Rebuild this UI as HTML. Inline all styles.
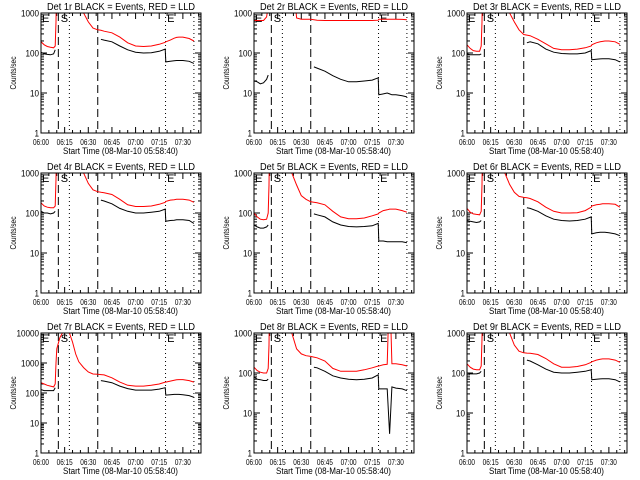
<!DOCTYPE html>
<html><head><meta charset="utf-8">
<style>
html,body{margin:0;padding:0;background:#fff;}
svg{display:block;font-family:"Liberation Sans",sans-serif;}
</style></head>
<body>
<svg id="chart" width="640" height="480" viewBox="0 0 640 480" xmlns="http://www.w3.org/2000/svg"></svg>
<script>
// time grid (minutes after 06:00)
const times = [0,2,4,6,8,9,9.5,10,12,14,16,18,20,22,24,27,30,33,36,38,40,45,50,55,60,65,70,75,78.8,79.2,82,84.5,86,87.5,90,94,97];
const N = null;
const detNames = ["Det 1r","Det 2r","Det 3r","Det 4r","Det 5r","Det 6r","Det 7r","Det 8r","Det 9r"];
const red1 = [190,160,145,140,135,150,600,20000,20000,20000,20000,20000,20000,20000,20000,1000,600,420,380,370,350,320,250,180,150,145,150,165,185,190,210,235,245,250,250,230,200];
const blk1 = [105,95,92,90,95,120,N,N,N,N,N,N,N,N,N,N,N,N,N,220,210,190,150,120,105,100,102,110,125,60,62,64,65,65,65,62,55];
const red2 = [650,650,650,650,800,1500,20000,20000,20000,20000,20000,20000,20000,20000,20000,750,700,700,700,680,660,650,650,650,650,650,650,650,660,700,700,700,700,700,700,690,680];
const blk2 = [20,19,17,18,22,28,N,N,N,N,N,N,N,N,N,N,N,N,N,45,42,35,27,22,19,19,20,21,24,9,9.5,10,9.5,9,9,8.5,8];
const red3 = [160,130,115,110,110,150,600,20000,20000,20000,20000,20000,20000,20000,20000,1000,600,380,290,280,270,220,170,130,120,120,125,135,150,160,180,190,195,200,200,190,165];
const blk3 = [95,90,90,90,90,95,N,N,N,N,N,N,N,N,N,N,N,N,N,180,190,170,125,105,97,95,95,100,115,68,70,71,72,72,72,68,60];
const red4 = [180,150,140,135,135,150,700,20000,20000,20000,20000,20000,20000,20000,20000,1000,550,380,340,330,320,290,220,160,145,145,150,165,185,195,210,215,220,220,220,210,185];
const blk4 = [110,100,100,95,100,110,N,N,N,N,N,N,N,N,N,N,N,N,N,210,200,170,130,110,100,100,105,110,125,62,65,66,68,68,68,65,55];
const red5 = [100,80,70,68,70,100,500,20000,20000,20000,20000,20000,20000,20000,1000,500,270,220,190,185,180,160,110,80,72,72,75,85,95,100,115,120,125,125,125,115,105];
const blk5 = [50,45,42,42,45,50,N,N,N,N,N,N,N,N,N,N,N,N,N,95,90,80,60,50,46,45,46,48,55,20,20,19,19,19,19,19,18];
const red6 = [130,105,95,92,90,110,500,20000,20000,20000,20000,20000,20000,20000,1000,520,330,260,245,240,230,190,140,110,100,100,102,115,140,150,160,165,170,170,170,165,140];
const blk6 = [65,62,60,58,60,65,N,N,N,N,N,N,N,N,N,N,N,N,N,135,130,110,85,70,65,63,65,70,80,30,32,33,33,33,32,30,27];
const red7 = [220,200,180,170,160,200,1000,3000,7000,11000,12000,10000,5000,2000,1100,700,500,430,420,410,400,320,230,180,170,170,180,200,230,230,250,265,275,280,280,260,230];
const blk7 = [130,120,120,120,120,150,N,N,N,N,N,N,N,N,N,N,N,N,N,260,250,220,170,140,125,125,125,135,150,85,88,90,90,90,88,82,72];
const red8 = [140,115,105,100,100,130,500,20000,20000,20000,20000,20000,20000,20000,1000,400,300,270,260,250,240,200,130,110,110,110,120,135,150,150,160,165,20000,170,170,160,150];
const blk8 = [80,70,68,65,65,70,N,N,N,N,N,N,N,N,N,N,N,N,N,140,135,110,85,75,70,68,70,75,90,40,40,40,3,45,42,40,36];
const red9 = [170,140,125,120,120,150,700,20000,20000,20000,20000,20000,20000,20000,20000,1000,500,350,320,315,310,290,230,170,140,140,145,160,185,190,210,220,225,225,225,210,185];
const blk9 = [100,95,95,95,100,110,N,N,N,N,N,N,N,N,N,N,N,N,N,210,200,160,125,105,100,100,105,110,120,68,70,71,72,72,72,68,60];
const redSeries = [red1,red2,red3,red4,red5,red6,red7,red8,red9];
const blackSeries = [blk1,blk2,blk3,blk4,blk5,blk6,blk7,blk8,blk9];
const yDecades = [3,3,3,3,3,3,4,3,3];
const xTickLabels = ["06:00","06:15","06:30","06:45","07:00","07:15","07:30"];
const xTickMinutes = [0,15,30,45,60,75,90];
const dashedLines = [11,36];
const dottedLines = [18,79,97];

const svg = document.getElementById('chart');
const NS = "http://www.w3.org/2000/svg";
function mk(tag, attrs, parent){
  const e = document.createElementNS(NS, tag);
  for (const k in attrs) e.setAttribute(k, attrs[k]);
  (parent||svg).appendChild(e);
  return e;
}
const PW = 160, PH = 120, TMAX = 101.5;

for (let p = 0; p < 9; p++){
  const col = p % 3, row = Math.floor(p/3);
  const L = 41 + col*213, T = 13 + row*160, R = L + PW, B = T + PH;
  const dec = yDecades[p];
  const xs = t => L + t/TMAX*PW;
  const ys = v => B - Math.log10(v)/dec*PH;
  const g = mk('g', {});
  
  
  const cid = 'clip' + p;
  const cp = mk('clipPath', {id: cid}, g);
  mk('rect', {x: L, y: T, width: PW, height: PH}, cp);

  const title = mk('text', {x: L + 6, y: T - 3, 'font-size': 10, textLength: 148, lengthAdjust: 'spacingAndGlyphs', fill: '#000'}, g);
  title.textContent = detNames[p] + " BLACK = Events, RED = LLD";
  
  

  const yl = mk('text', {x: 0, y: 0, 'font-size': 8, 'text-anchor': 'middle', textLength: 33, lengthAdjust: 'spacingAndGlyphs', transform: `translate(${L-25},${T+PH/2}) rotate(-90)`}, g);
  yl.textContent = "Counts/sec";
  
  

  for (let d = 0; d <= dec; d++){
    const v = Math.pow(10, d), y = ys(v);
    mk('line', {x1: L, x2: L+6, y1: y, y2: y, stroke: '#000', 'stroke-width': 1}, g);
    mk('line', {x1: R-6, x2: R, y1: y, y2: y, stroke: '#000', 'stroke-width': 1}, g);
    const s = String(v);
    const tl = mk('text', {x: L-2, y: y+3.5, 'font-size': 9, 'text-anchor': 'end', textLength: s.length*4.5, lengthAdjust: 'spacingAndGlyphs'}, g);
    tl.textContent = s;
    
    
    if (d < dec) for (let m = 2; m <= 9; m++){
      const ym = ys(m*v);
      mk('line', {x1: L, x2: L+3, y1: ym, y2: ym, stroke: '#000', 'stroke-width': 1}, g);
      mk('line', {x1: R-3, x2: R, y1: ym, y2: ym, stroke: '#000', 'stroke-width': 1}, g);
    }
  }
  for (let t = 0; t <= TMAX; t += 5){
    const x = xs(t), major = (t % 15 === 0), len = major ? 6 : 3;
    mk('line', {x1: x, x2: x, y1: B, y2: B-len, stroke: '#000', 'stroke-width': 1}, g);
    mk('line', {x1: x, x2: x, y1: T, y2: T+len, stroke: '#000', 'stroke-width': 1}, g);
  }
  for (let i = 0; i < xTickLabels.length; i++){
    const xl = mk('text', {x: xs(xTickMinutes[i]) - 8, y: B+12, 'font-size': 8, textLength: 16, lengthAdjust: 'spacingAndGlyphs'}, g);
    xl.textContent = xTickLabels[i];
    
    
  }
  const xt = mk('text', {x: L + 22, y: B+21, 'font-size': 9, textLength: 115, lengthAdjust: 'spacingAndGlyphs'}, g);
  xt.textContent = "Start Time (08-Mar-10 05:58:40)";
  
  

  dashedLines.forEach(t => mk('line', {x1: xs(t), x2: xs(t), y1: T, y2: B, stroke: '#000', 'stroke-width': 1, 'stroke-dasharray': '8,4'}, g));
  dottedLines.forEach(t => mk('line', {x1: xs(t), x2: xs(t), y1: T, y2: B, stroke: '#000', 'stroke-width': 1, 'stroke-dasharray': '1,3'}, g));

  const e1 = mk('text', {x: L+1, y: T+9, 'font-size': 11}, g); e1.textContent = "E";
   
  const s1 = mk('text', {x: xs(12.5), y: T+9, 'font-size': 11}, g); s1.textContent = "S";
   
  const e2 = mk('text', {x: xs(80), y: T+9, 'font-size': 11}, g); e2.textContent = "E";
   

  const drawSeries = (vals, color, name) => {
    let pts = [];
    const flush = () => {
      if (pts.length > 1){
        const pl = mk('polyline', {points: pts.join(' '), fill: 'none', stroke: color, 'stroke-width': 1, 'clip-path': `url(#${cid})`}, g);
        
        
      }
      pts = [];
    };
    for (let i = 0; i < times.length; i++){
      const v = vals[i];
      if (v === null){ flush(); continue; }
      pts.push(xs(times[i]).toFixed(1) + ',' + ys(v).toFixed(1));
    }
    flush();
  };
  drawSeries(redSeries[p], '#ff0000', 'lld-rate-line');
  drawSeries(blackSeries[p], '#000000', 'event-rate-line');

  mk('rect', {x: L, y: T, width: PW, height: PH, fill: 'none', stroke: '#000', 'stroke-width': 1}, g);
}
</script>
</body></html>
